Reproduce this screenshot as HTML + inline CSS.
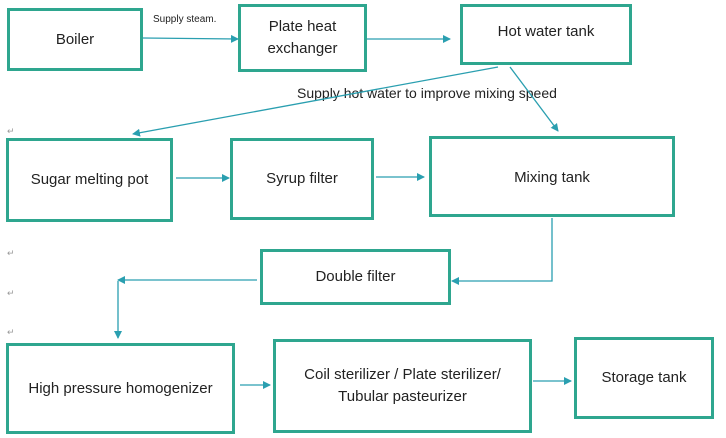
<!DOCTYPE html><html><head><style>
body{margin:0;width:726px;height:438px;background:#fff;position:relative;font-family:"Liberation Sans",sans-serif;overflow:hidden}
.b{position:absolute;border:3px solid #2ea68f;box-sizing:border-box;display:flex;align-items:center;justify-content:center;text-align:center;font-size:15px;color:#222;line-height:22px}
.t{position:absolute;font-size:14px;color:#222}
.r{position:absolute;color:#999;font-size:9px}
</style></head><body>
<div class="b" style="left:7px;top:8px;width:136px;height:63px">Boiler</div>
<div class="b" style="left:238px;top:4px;width:129px;height:68px">Plate heat<br>exchanger</div>
<div class="b" style="left:460px;top:4px;width:172px;height:61px;align-items:flex-start;padding-top:14px">Hot water tank</div>
<div class="b" style="left:6px;top:138px;width:167px;height:84px">Sugar melting pot</div>
<div class="b" style="left:230px;top:138px;width:144px;height:82px">Syrup filter</div>
<div class="b" style="left:429px;top:136px;width:246px;height:81px;align-items:flex-start;padding-top:28px">Mixing tank</div>
<div class="b" style="left:260px;top:249px;width:191px;height:56px">Double filter</div>
<div class="b" style="left:6px;top:343px;width:229px;height:91px">High pressure homogenizer</div>
<div class="b" style="left:273px;top:339px;width:259px;height:94px">Coil sterilizer / Plate sterilizer/<br>Tubular pasteurizer</div>
<div class="b" style="left:574px;top:337px;width:140px;height:82px">Storage tank</div>
<div class="t" style="left:153px;top:14px;font-size:10px">Supply steam.</div>
<div class="t" style="left:297px;top:85px">Supply hot water to improve mixing speed</div>
<div class="r" style="left:7px;top:126px">↵</div>
<div class="r" style="left:7px;top:248px">↵</div>
<div class="r" style="left:7px;top:288px">↵</div>
<div class="r" style="left:7px;top:327px">↵</div>
<svg width="726" height="438" style="position:absolute;left:0;top:0">
<defs><marker id="a" markerWidth="8" markerHeight="8" refX="7" refY="4" orient="auto" markerUnits="userSpaceOnUse"><path d="M0,0L8,4L0,8z" fill="#2a9fb0"/></marker></defs>
<g stroke="#2a9fb0" stroke-width="1.3" fill="none" marker-end="url(#a)">
<line x1="143" y1="38" x2="238" y2="39"/>
<line x1="367" y1="39" x2="450" y2="39"/>
<line x1="498" y1="67" x2="133" y2="134"/>
<line x1="510" y1="67" x2="558" y2="131"/>
<line x1="176" y1="178" x2="229" y2="178"/>
<line x1="376" y1="177" x2="424" y2="177"/>
<polyline points="552,218 552,281 452,281"/>
<polyline points="257,280 118,280"/>
<polyline points="118,281 118,338"/>
<line x1="240" y1="385" x2="270" y2="385"/>
<line x1="533" y1="381" x2="571" y2="381"/>
</g></svg>
</body></html>
